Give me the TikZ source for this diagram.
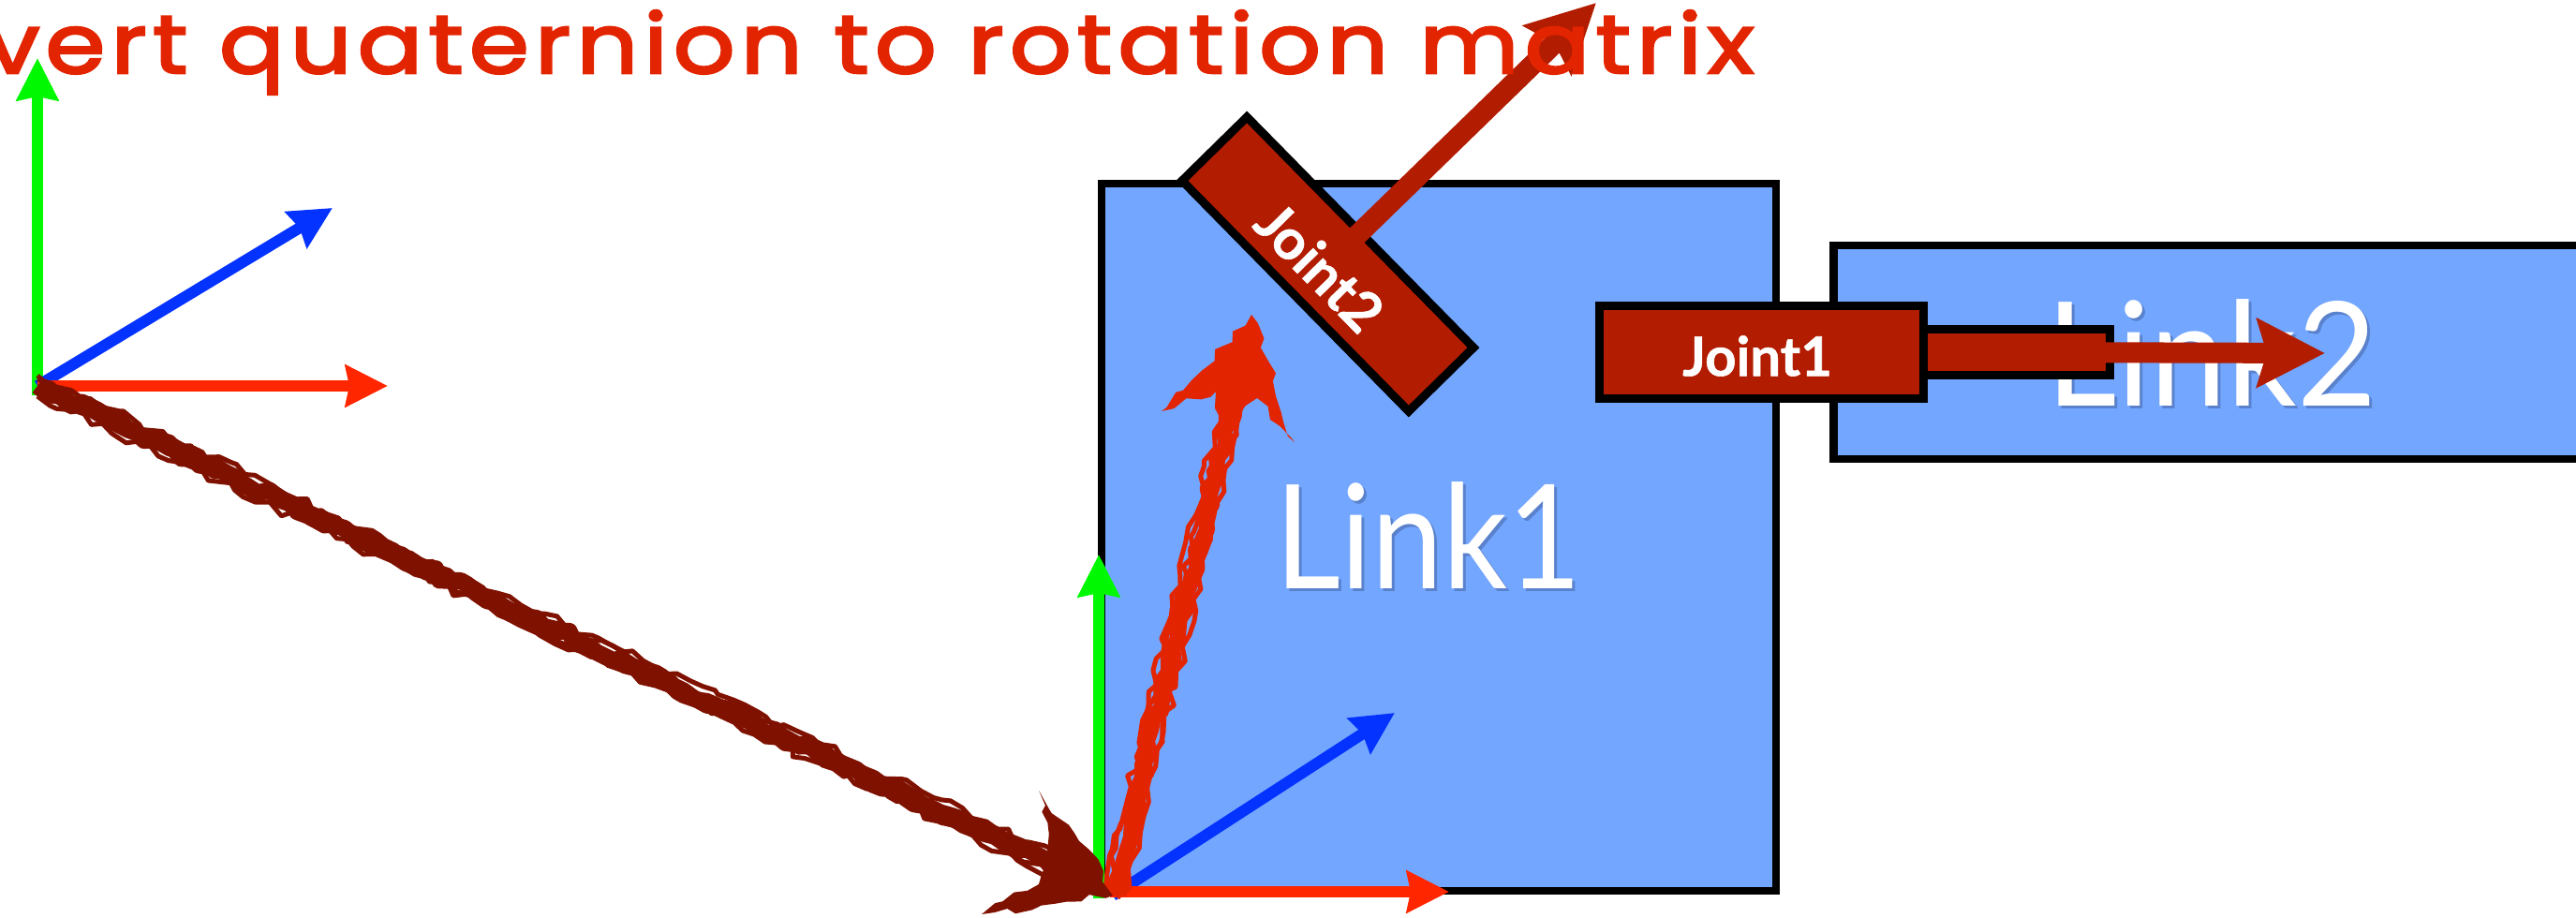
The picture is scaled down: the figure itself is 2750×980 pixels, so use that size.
\documentclass[tikz,border=0pt]{standalone}
\usepackage{fontspec}
\usepackage{xcolor}
\setmainfont{Lato}[BoldFeatures={FakeBold=1}]
\newfontfamily\chalkfont{Poppins}[LetterSpace=7,FakeStretch=1.17,FakeBold=3]
\usetikzlibrary{arrows.meta,positioning,calc,decorations.pathmorphing}
\definecolor{linkblue} {HTML}{73A6FF}
\definecolor{linkshade}{HTML}{5A82CC}
\definecolor{jointred} {HTML}{B21C00}
\definecolor{chalkred} {HTML}{E32400}
\definecolor{chalkdark}{HTML}{7F1100}
\definecolor{axisx}    {HTML}{FF2600}
\definecolor{axisy}    {HTML}{00F900}
\definecolor{axisz}    {HTML}{0433FF}
\newcommand{\shadowed}[2]{\makebox[0pt][l]{\kern#2\raisebox{-#2}{\textcolor{linkshade}{#1}}}#1}
\tikzset{
  linkbox/.style={draw=black,line width=0.085cm,fill=linkblue,inner sep=0pt,outer sep=0pt},
  linklabel/.style={text=white,inner sep=0pt,font=\fontsize{44}{44}\selectfont},
  jointbox/.style={draw=black,line width=0.09cm,fill=jointred,inner sep=0pt,outer sep=0pt},
  jointlabel/.style={text=white,inner sep=0pt,font=\bfseries\fontsize{16.5}{17}\selectfont},
  jointarrow/.style={draw=jointred,line width=0.22cm,-{Stealth[length=0.72cm,width=0.72cm,inset=0.1cm]}},
  axisarrow/.style={line width=0.12cm,-{Stealth[length=0.45cm,width=0.44cm,inset=0.04cm]}},
  chalk/.style={decorate,decoration={random steps,segment length=0.13cm,amplitude=0.05cm},line join=round},
}
\begin{document}
\begin{tikzpicture}[x=0.01cm,y=-0.01cm]
      \pgfmathsetseed{42}
      \useasboundingbox (0,0) rectangle (2750,980);
      % end points
      \coordinate (o1) at (40,412);
      \coordinate (x1) at (414,412);
      \coordinate (y1) at (40,62);
      \coordinate (y1b) at (40,422);
      \coordinate (z1) at (355,222);
      \coordinate (o2) at (1188,956);
      \coordinate (x2) at (1547,952);
      \coordinate (x2b) at (1185,952);
      \coordinate (y2) at (1173,592);
      \coordinate (y2b) at (1173,959);
      \coordinate (z2) at (1489,761);
      \coordinate (tipOne) at (2482,377);
      \coordinate (tipTwo) at (1704,3);
      \coordinate (tipChalk) at (1336,336);

      % links
      \node[linkbox,minimum width=7.2cm,minimum height=7.55cm] (link1) at (1536,573.5) {};
      \node[linkbox,minimum width=8.45cm,minimum height=2.28cm] (link2) at (2380,376) {};
      \node[linklabel] (link1label) at (1525,573) {\scalebox{.88}[1]{\shadowed{Link1}{1pt}}};
      \node[linklabel] (link2label) at (2361,378) {\scalebox{.95}[1]{\shadowed{Link2}{1pt}}};

      % joints
      \node[jointbox,minimum width=2.52cm,minimum height=0.49cm] (stem) at (2126,376) {};
      \node[jointbox,minimum width=3.46cm,minimum height=0.99cm] (joint1) at (1880.5,376) {};
      \node[jointlabel] (joint1label) at (1876,380) {Joint1};
      \draw[jointarrow] (stem.center) -- (tipOne);
      \node[jointbox,rotate=-45.5,minimum width=3.45cm,minimum height=0.97cm] (joint2) at (1417.5,282) {};
      \node[jointlabel,rotate=-45.5,font=\bfseries\fontsize{17}{18}\selectfont] (joint2label) at (1409,285) {Joint2};
      \draw[jointarrow,shorten <=-0.08cm] (joint2.north) -- (tipTwo);

      % frames
      \draw[axisarrow,axisy] (y1b) -- (y1);
      \draw[axisarrow,axisz] (o1) -- (z1);
      \draw[axisarrow,axisx] (o1) -- (x1);
      \draw[axisarrow,axisy] (y2b) -- (y2);
      \draw[axisarrow,axisz] (o2) -- (z2);
      \draw[axisarrow,axisx] (x2b) -- (x2);

      % chalk strokes
      \draw[chalk,chalkdark,line width=0.18cm] (o1) -- (1150,935);
      \draw[chalk,chalkred,line width=0.17cm] (o2) -- (1319,420);
      \foreach \d in {-1.1,-0.7,0.7,1.1} {
        \draw[chalk,chalkdark,line width=0.05cm] ([yshift=\d mm]o1) -- ([yshift=\d mm]1150,935);
        \draw[chalk,chalkred,line width=0.05cm] ([xshift=\d mm]o2) -- ([xshift=\d mm]1319,420);
      }
      \fill[chalk,chalkdark] (o2) -- (1178,930) -- (1109,844) -- (1118,910)
        -- (1109,944) -- (1048,976) -- cycle;
      \fill[chalk,chalkred] (tipChalk) -- (1240,439) -- (1298,418) -- (1302,445) -- (1322,445)
        -- (1342,425) -- (1382,472) -- cycle;

      \node[anchor=base west,inner sep=0pt,text=chalkred,
            font=\chalkfont\fontsize{25}{25}\selectfont] (title) at (-16,78)
        {vert quaternion to rotation matrix};
    \end{tikzpicture}
\end{document}
